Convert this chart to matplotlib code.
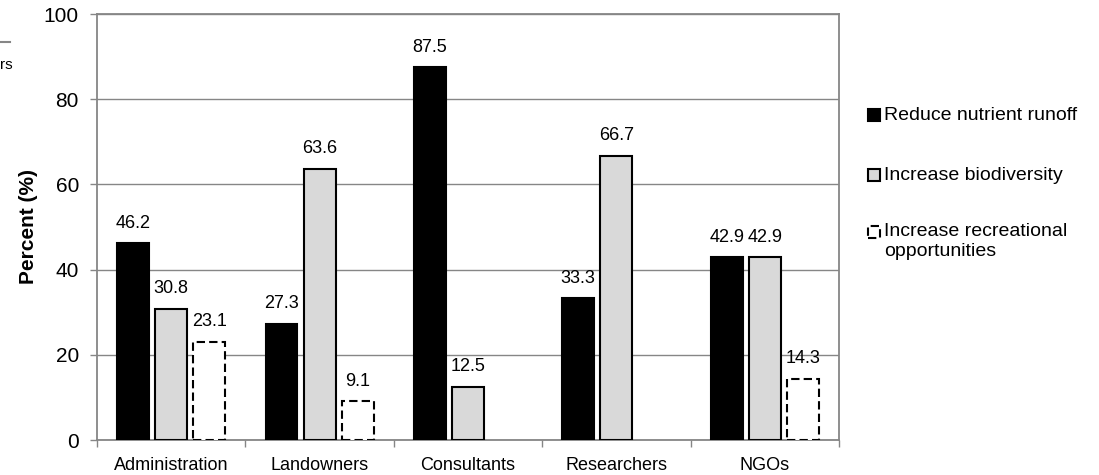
import matplotlib.pyplot as plt
import numpy as np
from matplotlib.patches import Rectangle
from matplotlib.lines import Line2D

plt.rcParams["font.family"] = ["Liberation Sans", "DejaVu Sans"]

# Survey results: share of respondents per group (%)
groups = ["Administration", "Landowners", "Consultants", "Researchers", "NGOs"]
series_names = [
    "Reduce nutrient runoff",
    "Increase biodiversity",
    "Increase recreational\nopportunities",
]
nutrient = [46.2, 27.3, 87.5, 33.3, 42.9]
biodiversity = [30.8, 63.6, 12.5, 66.7, 42.9]
recreation = [23.1, 9.1, np.nan, np.nan, 14.3]

W, H = 1099, 475
fig = plt.figure(figsize=(W / 100, H / 100), dpi=100)
ax = fig.add_axes([97 / W, 1 - 440 / H, (839 - 97) / W, (440 - 14) / H])

x = np.arange(len(groups))
width = 0.215
step = 0.257
axis_gray = "#868686"

styles = [
    dict(facecolor="black", edgecolor="black", linewidth=1.5),
    dict(facecolor="#d9d9d9", edgecolor="black", linewidth=1.5),
    dict(facecolor="white", edgecolor="black", linewidth=1.5, linestyle=(0, (4, 2))),
]

for i, vals in enumerate([nutrient, biodiversity, recreation]):
    pos = x + (i - 1) * step
    ax.bar(pos, vals, width, zorder=3, **styles[i])
    for xp, v in zip(pos, vals):
        if np.isnan(v):
            continue
        ax.annotate(f"{v:.1f}", (xp, v), xytext=(0, 14.5), textcoords="offset points",
                    ha="center", va="center", fontsize=13)

ax.set_xlim(-0.5, len(groups) - 0.5)
ax.set_ylim(0, 100)
ax.set_yticks(np.arange(0, 101, 20))
ax.yaxis.grid(True, color=axis_gray, linewidth=1, zorder=0)
ax.set_axisbelow(True)

ax.set_xticks(x)
ax.set_xticklabels(groups, fontsize=13)
ax.set_xticks(np.arange(-0.5, len(groups), 1), minor=True)
ax.tick_params(axis="x", which="major", length=0, pad=12)
ax.tick_params(axis="x", which="minor", length=5, color=axis_gray, width=1)
ax.tick_params(axis="y", length=5, color=axis_gray, width=1, labelsize=15, pad=8)
for sp in ax.spines.values():
    sp.set_color(axis_gray)
    sp.set_linewidth(1.3)

ax.set_ylabel("Percent (%)", fontsize=15, fontweight="bold", labelpad=4)

# legend drawn to the right of the plot area
legend_y = [115, 175, 232]
sq = 12
for name, st, yc in zip(series_names, styles, legend_y):
    fig.add_artist(Rectangle((868 / W, 1 - (yc + sq / 2) / H), sq / W, sq / H,
                             transform=fig.transFigure, **st))
    for k, line in enumerate(name.split("\n")):
        fig.text(884 / W, 1 - (yc + 20 * k) / H, line, fontsize=14,
                 va="center", ha="left")

# fragment of the neighbouring panel at the left edge
fig.add_artist(Line2D([0, 10 / W], [1 - 42 / H, 1 - 42 / H], color=axis_gray,
                      linewidth=1.5, transform=fig.transFigure))
fig.text(0, 1 - 65 / H, "rs", fontsize=11, va="center", ha="left")

fig.savefig("out.png", dpi=100)
